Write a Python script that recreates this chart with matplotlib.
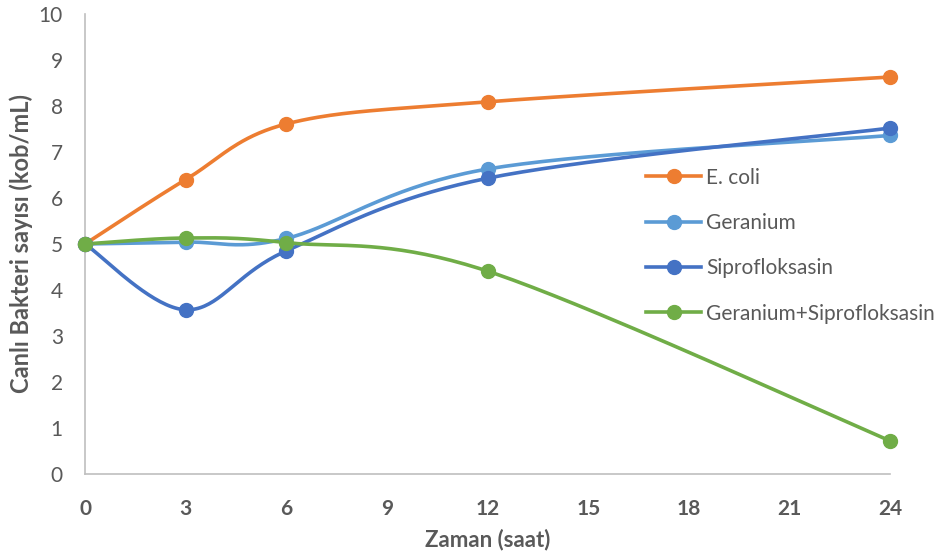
import numpy as np
import matplotlib.pyplot as plt
from matplotlib.lines import Line2D

hours = [0, 3, 6, 12, 24]
ecoli = [5.0, 6.40, 7.61, 8.09, 8.63]
geranium = [5.0, 5.04, 5.12, 6.63, 7.36]
sipro = [5.0, 3.57, 4.85, 6.43, 7.52]
combo = [5.0, 5.13, 5.03, 4.41, 0.72]

series = [
    ('E. coli', ecoli, '#ED7D31'),
    ('Geranium', geranium, '#5B9BD5'),
    ('Siprofloksasin', sipro, '#4472C4'),
    ('Geranium+Siprofloksasin', combo, '#70AD47'),
]

TEXT = '#595959'
AXIS = '#BFBFBF'


def smooth(x, y, sx, sy, n=40):
    # Bezier smoothing (tension 1/6), worked out in screen-like units
    p = np.column_stack([np.asarray(x, float) * sx, np.asarray(y, float) * sy])
    ext = np.vstack([p[0], p, p[-1]])
    out = []
    t = np.linspace(0, 1, n)[:, None]
    for i in range(len(p) - 1):
        p0 = ext[i + 1]
        p3 = ext[i + 2]
        c1 = p0 + (ext[i + 2] - ext[i]) / 6
        c2 = p3 - (ext[i + 3] - ext[i + 1]) / 6
        seg = ((1 - t) ** 3 * p0 + 3 * (1 - t) ** 2 * t * c1
               + 3 * (1 - t) * t ** 2 * c2 + t ** 3 * p3)
        out.append(seg if i == 0 else seg[1:])
    pts = np.vstack(out)
    return pts[:, 0] / sx, pts[:, 1] / sy


plt.rcParams['font.family'] = ['Lato', 'DejaVu Sans']

fig = plt.figure(figsize=(9.5, 5.6), dpi=100)
ax = fig.add_axes([0.0895, 0.1536, 0.8475, 0.8214])

w_px = 0.8475 * 950
h_px = 0.8214 * 560
sx, sy = w_px / 24, h_px / 10

for name, vals, col in series:
    xs, ys = smooth(hours, vals, sx, sy)
    ax.plot(xs, ys, color=col, lw=2.6, solid_capstyle='round', zorder=2)
    ax.plot(hours, vals, 'o', color=col, ms=10, zorder=3, clip_on=False)

ax.set_xlim(0, 24)
ax.set_ylim(0, 10)
ax.set_xticks(range(0, 25, 3))
ax.set_yticks(range(0, 11))
ax.tick_params(length=0, colors=TEXT)
ax.tick_params(axis='y', labelsize=15, pad=16)
ax.tick_params(axis='x', pad=18)
for lab in ax.get_xticklabels():
    lab.set_fontsize(15)
    lab.set_fontweight('bold')

for side in ('top', 'right'):
    ax.spines[side].set_visible(False)
for side in ('left', 'bottom'):
    ax.spines[side].set_color(AXIS)
    ax.spines[side].set_linewidth(1.2)

ax.set_xlabel('Zaman (saat)', fontsize=16, fontweight='bold', color=TEXT, labelpad=7)
ax.set_ylabel('Canlı Bakteri sayısı (kob/mL)', fontsize=17, fontweight='bold',
              color=TEXT, labelpad=4)

handles = [Line2D([], [], color=c, lw=2.6, marker='o', ms=10) for _, _, c in series]
leg = ax.legend(handles, [s[0] for s in series], loc='upper left',
                bbox_to_anchor=(0.674, 0.707), frameon=False, fontsize=15,
                handlelength=2.6, handletextpad=0.25, labelspacing=1.22,
                labelcolor=TEXT)

fig.savefig('out.png', dpi=100)
